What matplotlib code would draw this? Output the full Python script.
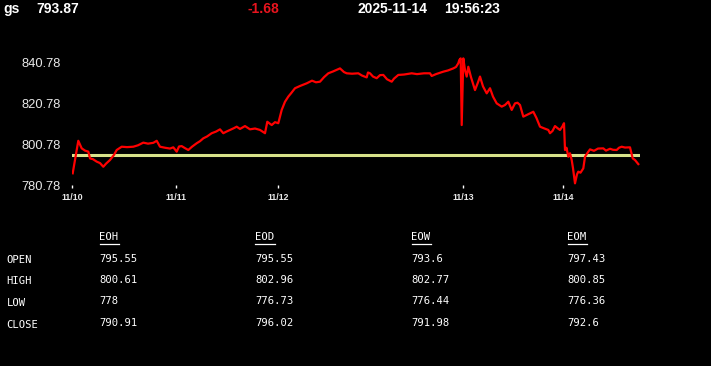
import matplotlib
matplotlib.use("Agg")
import matplotlib.pyplot as plt
from matplotlib.lines import Line2D

W, H = 711, 366

# price series (position along the session axis, price)
pos = [0.7, 6.3, 9.7, 13, 16.3, 18, 21, 24.7, 28, 31.3, 34, 38, 42, 44.7, 49.7,
       55, 61.3, 66, 71.3, 76, 81.3, 84.7, 88, 93, 98, 101.3, 104.7, 107, 109.7,
       113, 116.3, 120, 124.7, 128, 131.3, 135, 139.7, 144, 148, 151.3, 154, 158,
       162, 164.7, 168, 173, 178, 183, 188, 193, 195.3, 199.7, 203, 206.3, 209.7,
       213, 216.3, 219, 223, 228, 234.7, 240, 244, 248, 252, 256.3, 261, 268, 272,
       274.7, 280, 286.3, 290, 294.7, 296, 298, 301, 304.7, 308, 311.3, 315, 319.7,
       322, 326.3, 332, 339.7, 345, 352, 358, 359.7, 364, 371.3, 376, 381.3, 384,
       386.3, 387.3, 388.7, 389.7, 391.3, 393, 394.7, 396.3, 399, 403, 406, 408,
       411, 414.7, 418, 421, 424.7, 429.7, 433, 436.3, 439.7, 443, 445.5, 448,
       451.3, 456, 461.3, 464.5, 468, 472, 476.3, 478, 480.5, 483, 486, 488, 490.5,
       492, 493, 494.5, 496.3, 498, 499.7, 501, 503, 505, 506.3, 508.5, 511.3, 513,
       515.5, 518, 522, 526, 531.3, 534, 538, 541, 544.7, 547, 549.7, 553, 558,
       560.7, 563, 566.3]
price = [786.5, 802.4, 798.7, 797.6, 797.1, 793.8, 793.4, 792.2, 791.5, 789.7, 791.2,
         793.0, 795.5, 797.9, 799.5, 799.3, 799.5, 800.2, 801.5, 801.0, 801.4, 802.4,
         799.5, 799.0, 798.6, 799.2, 797.1, 799.6, 799.8, 798.8, 797.9, 799.5, 801.2,
         802.2, 803.6, 804.5, 806.1, 806.9, 808.0, 806.1, 806.8, 807.7, 808.6, 809.3,
         808.2, 809.6, 808.0, 808.4, 807.7, 806.1, 811.7, 810.1, 811.5, 811.0, 817.5,
         821.5, 824.0, 825.6, 828.1, 829.2, 830.5, 831.8, 831.0, 831.3, 833.5, 835.4,
         836.3, 837.8, 836.0, 835.4, 835.2, 835.4, 834.3, 833.4, 835.8, 835.4, 833.8,
         833.0, 834.5, 834.6, 832.5, 831.3, 832.8, 834.6, 834.8, 835.4, 835.0, 835.4,
         835.4, 834.1, 835.0, 836.2, 836.8, 837.8, 838.5, 840.3, 841.9, 842.7, 810.1,
         842.7, 837.0, 833.8, 838.6, 833.5, 827.2, 831.0, 833.8, 829.0, 825.6, 828.1,
         824.0, 820.7, 819.1, 819.9, 821.5, 817.5, 820.7, 821.0, 819.9, 814.2, 815.3,
         816.6, 813.5, 809.3, 808.5, 807.7, 806.1, 807.2, 809.6, 808.4, 807.7, 809.5,
         811.0, 797.9, 799.0, 794.6, 796.3, 793.0, 789.0, 781.6, 786.0, 787.3, 786.8,
         788.9, 794.6, 796.5, 798.2, 797.5, 798.6, 798.7, 797.6, 798.5, 798.0, 797.9,
         799.0, 799.5, 799.1, 799.2, 793.8, 793.0, 791.0]

prev_close = 795.55
day_pos = [0, 104, 206, 391, 491]
day_labels = ["11/10", "11/11", "11/12", "11/13", "11/14"]
y_levels = [780.78, 800.78, 820.78, 840.78]

symbol = "gs"
last = "793.87"
change = "-1.68"
date_str = "2025-11-14"
time_str = "19:56:23"

cols = ["EOH", "EOD", "EOW", "EOM"]
rows = ["OPEN", "HIGH", "LOW", "CLOSE"]
table = [["795.55", "795.55", "793.6", "797.43"],
         ["800.61", "802.96", "802.77", "800.85"],
         ["778", "776.73", "776.44", "776.36"],
         ["790.91", "796.02", "791.98", "792.6"]]


def fx(x):
    return x / W


def fy(y):
    return 1 - y / H


fig = plt.figure(figsize=(W / 100, H / 100), dpi=100, facecolor="black")
ax = fig.add_axes([fx(72), fy(185), (640 - 72) / W, (185 - 50) / H])
ax.set_facecolor("black")
for s in ax.spines.values():
    s.set_visible(False)

ax.axhline(prev_close, color="#d8e38a", lw=2.2, zorder=1)
ax.plot(pos, price, color="#ff0000", lw=1.6, zorder=2)

ax.set_xlim(0, 568)
ax.set_ylim(780.78, 780.78 + 135 / 2.045)
ax.set_yticks(y_levels, [f"{v:.2f}" for v in y_levels])
ax.set_xticks(day_pos, day_labels)
ax.tick_params(axis="y", length=0, pad=8, labelsize=9.3, labelcolor="#e8e8e8")
ax.tick_params(axis="x", length=2.5, width=1, color="white", pad=3,
               labelsize=6.4, labelcolor="#e8e8e8")
for lab in ax.get_yticklabels():
    lab.set_fontfamily("Liberation Sans")
for lab in ax.get_xticklabels():
    lab.set_fontfamily("Liberation Sans")
    lab.set_fontweight("bold")

# header
hdr = dict(fontfamily="Liberation Sans", fontweight="bold", fontsize=10,
           va="center", ha="left")
fig.text(fx(3), fy(9), symbol, color="white", **hdr)
fig.text(fx(36), fy(9), last, color="white", **hdr)
fig.text(fx(247), fy(9), change, color="#e8141e", **hdr)
fig.text(fx(358), fy(9), date_str, color="white", **hdr)
fig.text(fx(444), fy(9), time_str, color="white", **hdr)

# stats table
mono = dict(fontfamily="DejaVu Sans Mono", fontsize=7.6, color="white",
            va="center", ha="left")
col_x = [99.5, 255.5, 411.5, 567.5]
row_y = [258.5, 280, 301.5, 323.5]
char_w = 6.39
for cx, name in zip(col_x, cols):
    fig.text(fx(cx), fy(237), name, **mono)
    fig.add_artist(Line2D([fx(cx), fx(cx + char_w * len(name))], [fy(244), fy(244)],
                          color="white", lw=0.9))
for ry, name in zip(row_y, rows):
    fig.text(fx(6.5), fy(ry + 1.5), name, **mono)
for i, ry in enumerate(row_y):
    for j, cx in enumerate(col_x):
        fig.text(fx(cx), fy(ry), table[i][j], **mono)

fig.savefig("out.png", dpi=100, facecolor="black")
